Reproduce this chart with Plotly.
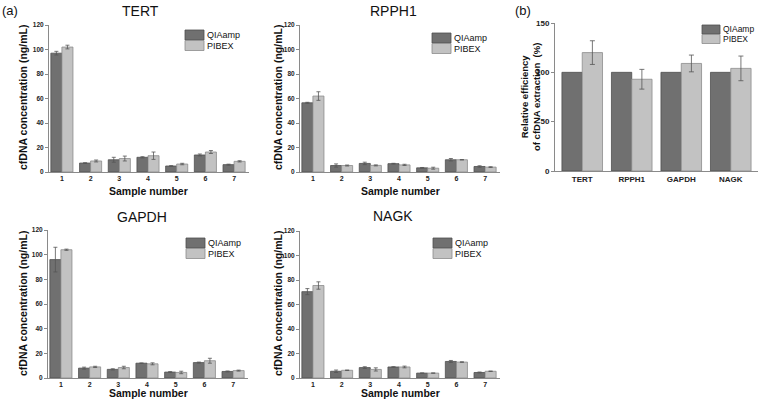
import plotly.graph_objects as go

W, H = 760, 402

samples = ["1", "2", "3", "4", "5", "6", "7"]
series_names = ["QIAamp", "PIBEX"]

tert_qia = [97, 7.3, 10, 12, 4.9, 13.9, 6]
tert_qia_err = [1.5, 0.3, 2, 0.5, 0.3, 0.8, 0.4]
tert_pib = [102, 9, 11, 13.3, 6.5, 16.3, 8.7]
tert_pib_err = [1.5, 0.8, 2, 3, 0.6, 1.2, 0.5]

rpph1_qia = [56.5, 5.3, 7, 6.8, 3.4, 10, 4.5]
rpph1_qia_err = [0.4, 1.3, 1, 0.3, 0.3, 1, 0.6]
rpph1_pib = [62, 5.3, 5.4, 5.8, 3.1, 10, 4]
rpph1_pib_err = [3.5, 0.4, 0.4, 0.5, 0.8, 0.2, 0.3]

gapdh_qia = [96, 8, 7, 12, 4.8, 12.5, 5.3]
gapdh_qia_err = [10, 0.8, 0.5, 0.2, 0.4, 0.4, 0.4]
gapdh_pib = [104, 9, 8.5, 11.5, 4.5, 14, 6]
gapdh_pib_err = [0.5, 0.5, 1, 0.8, 1, 2, 0.4]

nagk_qia = [70.5, 5.5, 8.5, 9, 4, 13.5, 4.5]
nagk_qia_err = [2.5, 1, 0.7, 0.2, 0.1, 0.8, 0.4]
nagk_pib = [75.5, 6.3, 7, 9, 4, 13, 5.5]
nagk_pib_err = [3, 0.2, 1.3, 0.7, 0.1, 0.2, 0.2]

genes = ["TERT", "RPPH1", "GAPDH", "NAGK"]
rel_qia = [100, 100, 100, 100]
rel_pib = [120, 93, 109, 104]
rel_pib_err = [12, 10, 8.5, 12.5]

conc_ticks = [0, 20, 40, 60, 80, 100, 120]
rel_ticks = [0, 50, 100, 150]

QIA_FILL, QIA_LINE = "#707070", "#4f4f4f"
PIB_FILL, PIB_LINE = "#c2c2c2", "#8c8c8c"
FILLS = [QIA_FILL, PIB_FILL]
LINES = [QIA_LINE, PIB_LINE]
ERR = "#555555"
AX = "#8a8a8a"
FONT = "Liberation Sans, Arial, sans-serif"


def px(x):
    return x / W


def py(y):
    return 1 - y / H


fig = go.Figure()

# name, qia, qia_err, pib, pib_err, x-domain px, y-domain px (bottom, top), legend (x, y top)
panels = [
    ("TERT", tert_qia, tert_qia_err, tert_pib, tert_pib_err, (49, 249), (172, 25), (185, 30)),
    ("RPPH1", rpph1_qia, rpph1_qia_err, rpph1_pib, rpph1_pib_err, (300, 500), (172, 25), (432, 33)),
    ("GAPDH", gapdh_qia, gapdh_qia_err, gapdh_pib, gapdh_pib_err, (48, 248), (378, 230), (186, 238)),
    ("NAGK", nagk_qia, nagk_qia_err, nagk_pib, nagk_pib_err, (300, 500), (378, 231), (433, 238)),
]

bw = 0.385
layout_axes = {}
legend_pos = []
for i, (name, q, qe, p, pe, (x0, x1), (yb, yt), lpos) in enumerate(panels):
    n = i + 1
    xa = "x" if n == 1 else f"x{n}"
    ya = "y" if n == 1 else f"y{n}"
    fig.add_trace(go.Bar(
        x=samples, y=q, name=series_names[0], xaxis=xa, yaxis=ya,
        width=bw, offset=-bw,
        marker=dict(color=QIA_FILL, line=dict(color=QIA_LINE, width=0.8)),
        error_y=dict(type="data", array=qe, color=ERR, thickness=0.8, width=2),
    ))
    fig.add_trace(go.Bar(
        x=samples, y=p, name=series_names[1], xaxis=xa, yaxis=ya,
        width=bw, offset=0,
        marker=dict(color=PIB_FILL, line=dict(color=PIB_LINE, width=0.8)),
        error_y=dict(type="data", array=pe, color=ERR, thickness=0.8, width=2),
    ))
    xk = "xaxis" if n == 1 else f"xaxis{n}"
    yk = "yaxis" if n == 1 else f"yaxis{n}"
    layout_axes[xk] = dict(
        domain=[px(x0), px(x1)], anchor=ya, type="category",
        range=[-0.45, 6.52], showline=True, linecolor=AX, linewidth=1,
        ticks="",
        tickfont=dict(size=7, family=FONT, color="#222", weight="bold"),
        showgrid=False, zeroline=False, automargin=False,
    )
    layout_axes[yk] = dict(
        domain=[py(yb), py(yt)], anchor=xa, range=[0, 120],
        tickvals=conc_ticks,
        showline=True, linecolor=AX, linewidth=1,
        ticks="outside", ticklen=3, tickcolor=AX,
        tickfont=dict(size=6.5, family=FONT, color="#222", weight="bold"),
        showgrid=False, zeroline=False, automargin=False,
    )
    legend_pos.append((lpos, 19, 10, 9))

# panel (b)
fig.add_trace(go.Bar(
    x=genes, y=rel_qia, name=series_names[0], xaxis="x5", yaxis="y5",
    width=0.41, offset=-0.41,
    marker=dict(color=QIA_FILL, line=dict(color=QIA_LINE, width=0.8)),
))
fig.add_trace(go.Bar(
    x=genes, y=rel_pib, name=series_names[1], xaxis="x5", yaxis="y5",
    width=0.41, offset=0,
    marker=dict(color=PIB_FILL, line=dict(color=PIB_LINE, width=0.8)),
    error_y=dict(type="data", array=rel_pib_err, color=ERR, thickness=0.8, width=2.5),
))
layout_axes["xaxis5"] = dict(
    domain=[px(555), px(758)], anchor="y5", type="category",
    range=[-0.55, 3.55], showline=True, linecolor=AX, linewidth=1,
    ticks="", tickfont=dict(size=8, family=FONT, color="#222", weight="bold"),
    showgrid=False, zeroline=False, automargin=False,
)
layout_axes["yaxis5"] = dict(
    domain=[py(171), py(23)], anchor="x5", range=[0, 150],
    tickvals=rel_ticks, showline=True, linecolor=AX, linewidth=1,
    ticks="outside", ticklen=3, tickcolor=AX,
    tickfont=dict(size=8, family=FONT, color="#222", weight="bold"),
    showgrid=False, zeroline=False, automargin=False,
)
legend_pos.append(((702, 25), 18, 9, 8.5))

annotations = []
shapes = []


def ann(text, x, y, size, bold=False, angle=0, xanchor="center"):
    annotations.append(dict(
        text=f"<b>{text}</b>" if bold else text, x=px(x), y=py(y),
        xref="paper", yref="paper", showarrow=False, textangle=angle,
        font=dict(size=size, family=FONT, color="#111"),
        xanchor=xanchor, yanchor="middle", borderpad=0,
    ))


# legend keys (one small legend per panel, as in the original)
for (lx, ly), kw, kh, fs in legend_pos:
    for j, nm in enumerate(series_names):
        top = ly + j * (kh + 0.5)
        shapes.append(dict(
            type="rect", xref="paper", yref="paper",
            x0=px(lx), x1=px(lx + kw), y0=py(top + kh), y1=py(top),
            fillcolor=FILLS[j], line=dict(color=LINES[j], width=0.8),
        ))
        ann(nm, lx + kw + 2, top + kh / 2, fs, False, 0, "left")

ann("(a)", 10, 10, 13)
ann("(b)", 523, 10, 13)
ann("TERT", 140, 11, 14)
ann("RPPH1", 393, 11, 14)
ann("GAPDH", 142, 217, 14)
ann("NAGK", 393, 216, 14)
ylab = "cfDNA concentration (ng/mL)"
ann(ylab, 23, 98, 10.5, True, -90)
ann(ylab, 278, 98, 10.5, True, -90)
ann(ylab, 23, 304, 10.5, True, -90)
ann(ylab, 278, 304, 10.5, True, -90)
ann("Sample number", 148, 191, 10.5, True)
ann("Sample number", 400, 191, 10.5, True)
ann("Sample number", 148, 393, 10.5, True)
ann("Sample number", 400, 393, 10.5, True)
ann("Relative efficiency<br>of cfDNA extraction  (%)", 530, 97, 9.5, True, -90)

fig.update_layout(
    width=W, height=H, margin=dict(l=0, r=0, t=0, b=0),
    paper_bgcolor="white", plot_bgcolor="white",
    barmode="overlay", showlegend=False,
    annotations=annotations, shapes=shapes,
    font=dict(family=FONT),
    **layout_axes,
)

fig.write_html(
    "out.html",
    config={"displayModeBar": False},
    post_script="document.body.style.margin='0';document.body.style.overflow='hidden';",
)
